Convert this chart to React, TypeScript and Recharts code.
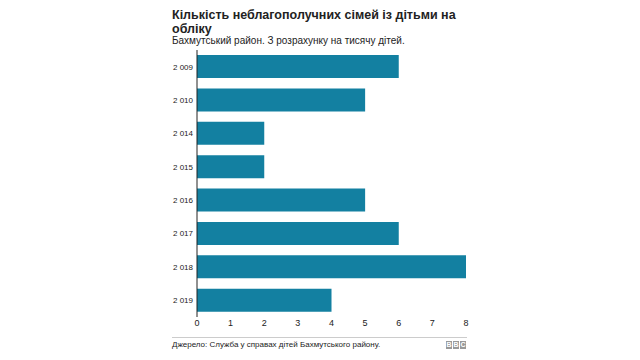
import { BarChart, Bar, XAxis, YAxis } from "recharts";

const years = ["2 009", "2 010", "2 014", "2 015", "2 016", "2 017", "2 018", "2 019"];
const families = [6, 5, 2, 2, 5, 6, 8, 4];
const xTicks = [0, 1, 2, 3, 4, 5, 6, 7, 8];

const data = years.map((year, i) => ({ year, value: families[i] }));

const font = "'Liberation Sans', Arial, Helvetica, sans-serif";

function BbcLogo() {
  const box = {
    display: "inline-block",
    width: 6,
    height: 8,
    marginLeft: 1,
    background: "#999",
    color: "#fff",
    fontSize: 7,
    fontWeight: 700,
    lineHeight: "8px",
    textAlign: "center" as const,
  };
  return (
    <div style={{ position: "absolute", left: 445, top: 341, display: "flex" }}>
      <span style={box}>B</span>
      <span style={box}>B</span>
      <span style={box}>C</span>
    </div>
  );
}

export default function App() {
  return (
    <div style={{ position: "absolute", left: 0, top: 0, width: 640, height: 360, background: "#fff", fontFamily: font }}>
      <div style={{ position: "absolute", left: 172, top: 8, width: 295, fontSize: 12.5, fontWeight: 700, lineHeight: "14px", color: "#222" }}>
        Кількість неблагополучних сімей із дітьми на обліку
      </div>
      <div style={{ position: "absolute", left: 172, top: 35, fontSize: 10, lineHeight: "12px", color: "#222" }}>
        Бахмутський район. З розрахунку на тисячу дітей.
      </div>

      <div style={{ position: "absolute", left: 160, top: 0 }}>
        <BarChart
          width={320}
          height={340}
          data={data}
          layout="vertical"
          margin={{ top: 50, right: 14, left: 0, bottom: 8 }}
        >
          <XAxis
            type="number"
            domain={[0, 8]}
            ticks={xTicks}
            axisLine={false}
            tickLine={false}
            tickSize={0}
            tickMargin={3}
            height={15}
            tick={{ fontSize: 9, fill: "#222", fontFamily: font }}
          />
          <YAxis
            type="category"
            dataKey="year"
            width={37}
            axisLine={{ stroke: "#222", strokeWidth: 1 }}
            tickLine={false}
            tickSize={0}
            tickMargin={4}
            tick={{ fontSize: 8, fill: "#222", fontFamily: font }}
          />
          <Bar dataKey="value" fill="#1380A1" barSize={23} isAnimationActive={false} />
        </BarChart>
      </div>

      <div style={{ position: "absolute", left: 172, top: 337, width: 295, height: 1, background: "#ccc" }} />
      <div style={{ position: "absolute", left: 172, top: 340, fontSize: 8, lineHeight: "10px", color: "#222" }}>
        Джерело: Служба у справах дітей Бахмутського району.
      </div>
      <BbcLogo />
    </div>
  );
}
